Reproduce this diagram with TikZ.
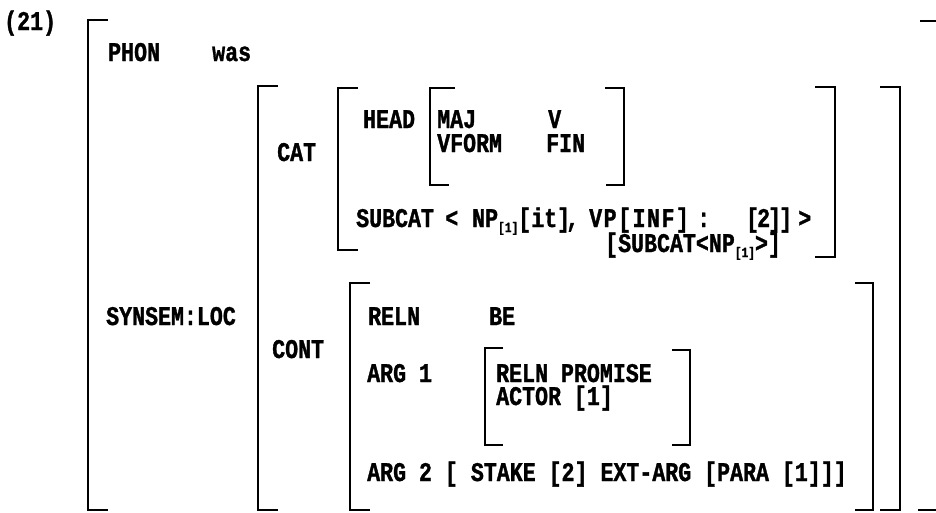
\documentclass[tikz,border=0pt]{standalone}
\usepackage{fontspec}
\newfontfamily\avm{Liberation Mono}[FakeStretch=0.8,FakeBold=1.2]
\newcommand\subidx[1]{\raisebox{-5pt}{\fontsize{14}{14}\selectfont #1}}
\tikzset{
  lbl/.style={anchor=base west, inner sep=0pt, text height=17pt, text depth=4pt,
    font=\avm\bfseries\fontsize{27}{30}\selectfont},
  brk/.style={line width=2.8pt, line cap=butt, line join=miter},
}
\begin{document}
\begin{tikzpicture}[x=1pt,y=-1pt]
\useasboundingbox (0,0) rectangle (936,512);
\clip (0,0) rectangle (936,512);
\fill[white] (0,0) rectangle (936,512);
% label
\node[lbl] (ex) at (4,30) {(21)};
% outer matrix
\draw[brk] (108,20) -| (88,510) -- (108,510);
\draw[brk] (920,21) -| (939,510) -- (918,510);
\node[lbl] (phon) at (108,61) {PHON};
\node[lbl] (was) at (212,61) {was};
\node[lbl] (synsem) at (106,325) {SYNSEM:LOC};
% SYNSEM:LOC value
\draw[brk] (278,86) -| (258,510) -- (278,510);
\draw[brk] (880,87) -| (900,510) -- (880,510);
\node[lbl] (cat) at (277,161) {CAT};
\node[lbl] (cont) at (272,358) {CONT};
% CAT value
\draw[brk] (358,88) -| (338,250) -- (358,250);
\draw[brk] (815,87) -| (835,257) -- (815,257);
\node[lbl] (head) at (363,128) {HEAD};
% HEAD value
\draw[brk] (455,88) -| (430,185) -- (449,185);
\draw[brk] (605,88) -| (624,185) -- (606,185);
\node[lbl] (maj) at (437,128) {MAJ};
\node[lbl] (v) at (548,128) {V};
\node[lbl] (vform) at (437,152) {VFORM};
\node[lbl] (fin) at (546,152) {FIN};
% SUBCAT
\node[lbl] (subcat) at (356,227) {SUBCAT};
\node[lbl] (lt) at (445,227) {<};
\node[lbl] (np) at (472,227) {NP\subidx{[1]}[it]\kern-4pt,};
\node[lbl] (vp) at (589,227) {V\kern1.5pt P\kern1.5pt[\kern1.5pt I\kern1.5pt N\kern1.5pt F\kern1.5pt]};
\node[lbl] (colon) at (697,227) {:};
\node[lbl] (two) at (746,227) {[\kern-2pt 2\kern-2pt]\kern-2pt]};
\node[lbl] (gt) at (798,227) {>};
\node[lbl] (subcat2) at (605,252) {[SUBCAT<NP\subidx{[1]}>]};
% CONT value
\draw[brk] (370,283) -| (350,510) -- (370,510);
\draw[brk] (855,283) -| (873,510) -- (855,510);
\node[lbl] (reln) at (368,325) {RELN};
\node[lbl] (be) at (489,325) {BE};
\node[lbl] (arg1) at (367,382) {ARG 1};
% ARG 1 value
\draw[brk] (503,348) -| (485,445) -- (503,445);
\draw[brk] (672,350) -| (690,445) -- (672,445);
\node[lbl] (reln2) at (496,382) {RELN PROMISE};
\node[lbl] (actor) at (496,405) {ACTOR [1]};
% ARG 2
\node[lbl] (arg2) at (367,481) {ARG 2 [ STAKE [2] EXT-ARG [PARA [1]]]};
\end{tikzpicture}
\end{document}
